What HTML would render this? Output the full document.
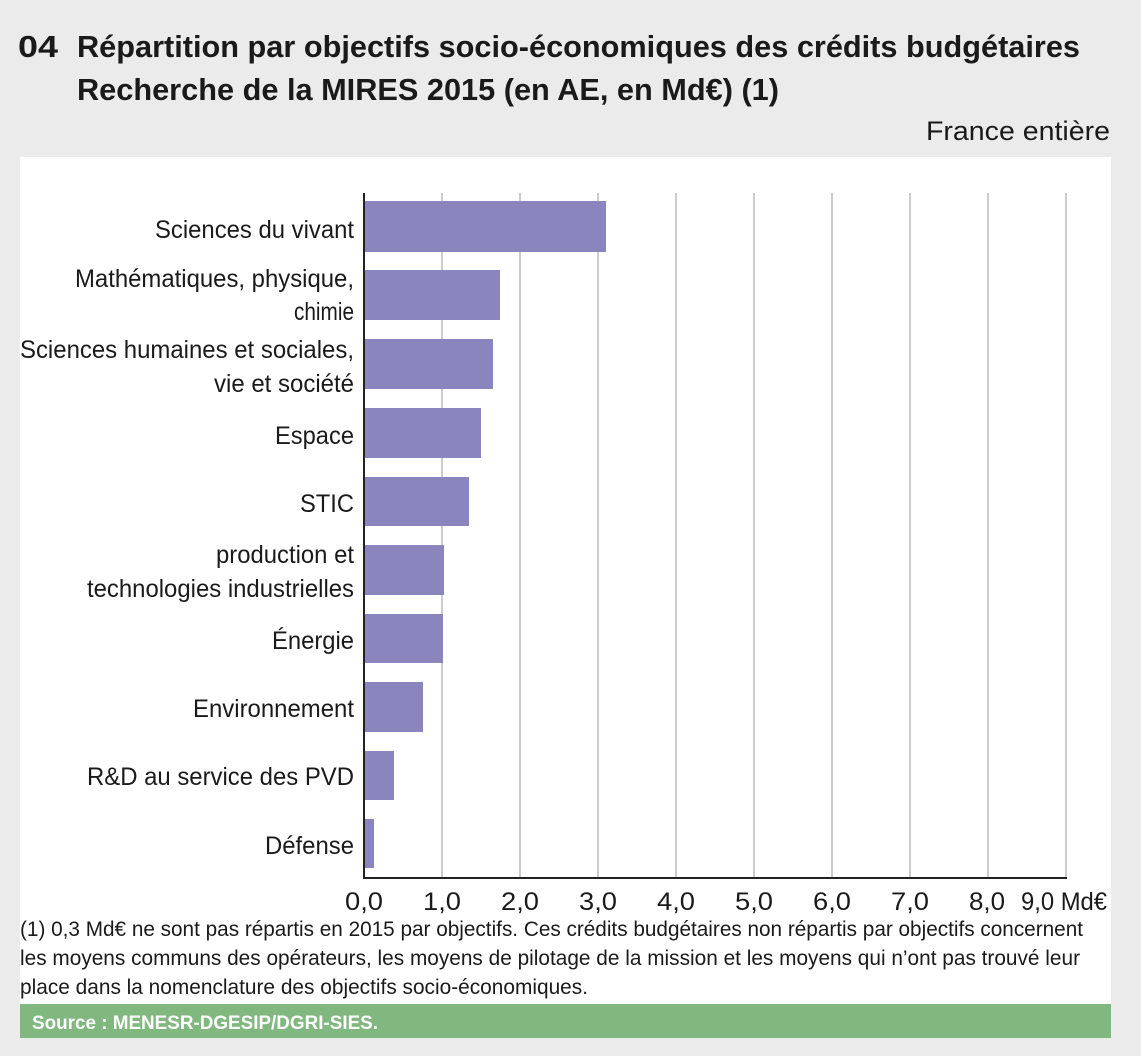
<!DOCTYPE html>
<html><head><meta charset="utf-8"><style>
html,body{margin:0;padding:0;background:#ebebeb}
svg{display:block}
text{font-family:"Liberation Sans Narrow","Liberation Sans",sans-serif;fill:#1a1a1a}
</style></head><body>
<svg width="1141" height="1056" viewBox="0 0 1141 1056" xmlns="http://www.w3.org/2000/svg">
<rect width="1141" height="1056" fill="#ebebeb"/>
<text x="18" y="57" font-size="31" font-weight="bold" textLength="40" lengthAdjust="spacingAndGlyphs">04</text>
<text x="77" y="57" font-size="31" font-weight="bold" textLength="1003" lengthAdjust="spacingAndGlyphs">Répartition par objectifs socio-économiques des crédits budgétaires</text>
<text x="77" y="100" font-size="31" font-weight="bold" textLength="702" lengthAdjust="spacingAndGlyphs">Recherche de la MIRES 2015 (en AE, en Md€) (1)</text>
<text x="1110" y="140" font-size="27" text-anchor="end" textLength="184" lengthAdjust="spacingAndGlyphs">France entière</text>
<rect x="20" y="157" width="1091" height="881" fill="#fff"/>
<g stroke="#999" stroke-width="1">
<line x1="442" y1="193" x2="442" y2="878"/><line x1="520" y1="193" x2="520" y2="878"/>
<line x1="598" y1="193" x2="598" y2="878"/><line x1="676" y1="193" x2="676" y2="878"/>
<line x1="754" y1="193" x2="754" y2="878"/><line x1="832" y1="193" x2="832" y2="878"/>
<line x1="910" y1="193" x2="910" y2="878"/><line x1="988" y1="193" x2="988" y2="878"/>
<line x1="1066" y1="193" x2="1066" y2="878"/>
</g>
<g fill="#8a86bd">
<rect x="364" y="201" width="242" height="51"/>
<rect x="364" y="270" width="136" height="50"/>
<rect x="364" y="339" width="129" height="50"/>
<rect x="364" y="408" width="117" height="50"/>
<rect x="364" y="477" width="105" height="49"/>
<rect x="364" y="545" width="80" height="50"/>
<rect x="364" y="614" width="79" height="49"/>
<rect x="364" y="682" width="59" height="50"/>
<rect x="364" y="751" width="30" height="49"/>
<rect x="364" y="819" width="10" height="49"/>
</g>
<line x1="364" y1="193" x2="364" y2="879" stroke="#222" stroke-width="2"/>
<line x1="363" y1="878" x2="1067" y2="878" stroke="#222" stroke-width="2"/>
<g font-size="25">
<text x="155" y="238" textLength="199" lengthAdjust="spacingAndGlyphs">Sciences du vivant</text>
<text x="75" y="287" textLength="279" lengthAdjust="spacingAndGlyphs">Mathématiques, physique,</text>
<text x="294" y="320" textLength="60" lengthAdjust="spacingAndGlyphs">chimie</text>
<text x="20" y="358" textLength="334" lengthAdjust="spacingAndGlyphs">Sciences humaines et sociales,</text>
<text x="214" y="392" textLength="140" lengthAdjust="spacingAndGlyphs">vie et société</text>
<text x="275" y="444" textLength="79" lengthAdjust="spacingAndGlyphs">Espace</text>
<text x="300" y="512" textLength="54" lengthAdjust="spacingAndGlyphs">STIC</text>
<text x="216" y="563" textLength="138" lengthAdjust="spacingAndGlyphs">production et</text>
<text x="87" y="597" textLength="267" lengthAdjust="spacingAndGlyphs">technologies industrielles</text>
<text x="272" y="649" textLength="82" lengthAdjust="spacingAndGlyphs">Énergie</text>
<text x="193" y="717" textLength="161" lengthAdjust="spacingAndGlyphs">Environnement</text>
<text x="87" y="785" textLength="267" lengthAdjust="spacingAndGlyphs">R&amp;D au service des PVD</text>
<text x="265" y="854" textLength="89" lengthAdjust="spacingAndGlyphs">Défense</text>
</g>
<g font-size="25">
<text x="345" y="910" textLength="38" lengthAdjust="spacingAndGlyphs">0,0</text>
<text x="423" y="910" textLength="38" lengthAdjust="spacingAndGlyphs">1,0</text>
<text x="501" y="910" textLength="38" lengthAdjust="spacingAndGlyphs">2,0</text>
<text x="579" y="910" textLength="38" lengthAdjust="spacingAndGlyphs">3,0</text>
<text x="657" y="910" textLength="38" lengthAdjust="spacingAndGlyphs">4,0</text>
<text x="735" y="910" textLength="38" lengthAdjust="spacingAndGlyphs">5,0</text>
<text x="813" y="910" textLength="38" lengthAdjust="spacingAndGlyphs">6,0</text>
<text x="891" y="910" textLength="38" lengthAdjust="spacingAndGlyphs">7,0</text>
<text x="969" y="910" textLength="36" lengthAdjust="spacingAndGlyphs">8,0</text>
<text x="1021" y="910" textLength="86" lengthAdjust="spacingAndGlyphs">9,0 Md€</text>
</g>
<g font-size="21">
<text x="20" y="936" textLength="1063" lengthAdjust="spacingAndGlyphs">(1) 0,3 Md€ ne sont pas répartis en 2015 par objectifs. Ces crédits budgétaires non répartis par objectifs concernent</text>
<text x="20" y="965" textLength="1060" lengthAdjust="spacingAndGlyphs">les moyens communs des opérateurs, les moyens de pilotage de la mission et les moyens qui n’ont pas trouvé leur</text>
<text x="20" y="994" textLength="568" lengthAdjust="spacingAndGlyphs">place dans la nomenclature des objectifs socio-économiques.</text>
</g>
<rect x="20" y="1004" width="1091" height="34" fill="#80b880"/>
<text x="32" y="1029" font-size="19" font-weight="bold" style="fill:#fff" textLength="346" lengthAdjust="spacingAndGlyphs">Source : MENESR-DGESIP/DGRI-SIES.</text>
</svg>
</body></html>
